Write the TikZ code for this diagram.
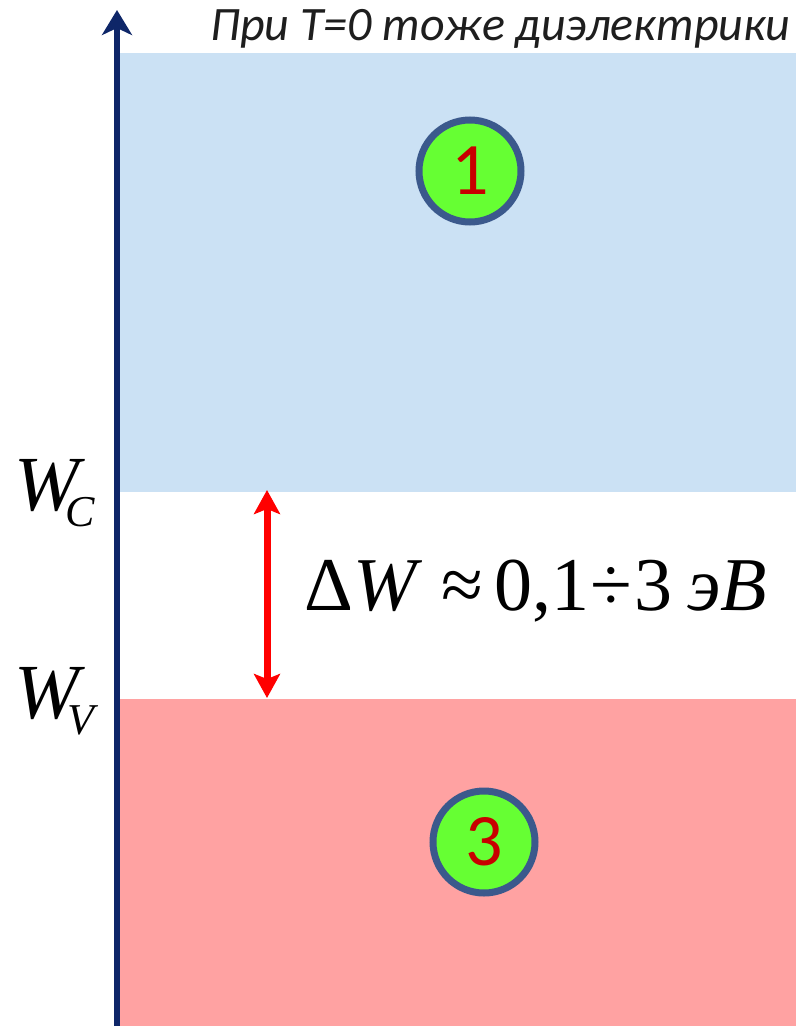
\documentclass[tikz,border=0pt]{standalone}
\usepackage{fontspec}
\setmainfont{Liberation Serif}
\newfontfamily\carl{Carlito}
\usetikzlibrary{arrows.meta}
\definecolor{bandblue}{RGB}{203,225,244}
\definecolor{bandred}{RGB}{255,162,162}
\definecolor{axisblue}{RGB}{14,38,104}
\definecolor{ballgreen}{RGB}{102,255,51}
\definecolor{ballrim}{RGB}{59,89,140}
\definecolor{numred}{RGB}{200,0,0}
\definecolor{gaparrow}{RGB}{255,0,0}
\definecolor{notetext}{RGB}{30,30,30}
\newcommand{\levelsub}[2]{\hspace{#1}\raisebox{-16pt}{\fontsize{44}{44}\selectfont #2}}
\begin{document}
\begin{tikzpicture}[x=1pt,y=-1pt,
  ball/.style={circle,draw=ballrim,line width=7pt,fill=ballgreen,minimum size=102pt,inner sep=0pt,
    font=\carl\fontsize{74}{74}\selectfont,text=numred},
  bigW/.style={inner sep=0pt,anchor=base west,font=\fontsize{78}{78}\selectfont\itshape},
  axtip/.tip={Stealth[length=25pt,width=30pt,inset=7pt]},
  gaptip/.tip={Stealth[length=24pt,width=26pt,inset=5pt]}]
\useasboundingbox (0,0) rectangle (796,1026);
\fill[bandblue] (120,53) rectangle (796,492);
\fill[bandred] (120,699) rectangle (796,1026);
\coordinate (axbot) at (117,1026);
\coordinate (axtop) at (117,10);
\draw[axisblue,line width=5.5pt,-{axtip}] (axbot) -- (axtop);
\node[ball] (c1) at (470,171) {1};
\node[ball] (c3) at (484,842) {3};
\coordinate (gt) at (267,490);
\coordinate (gb) at (267,698);
\draw[gaparrow,line width=7pt,{gaptip}-{gaptip}] (gt) -- (gb);
\node[bigW] (wc) at (14,510) {W\levelsub{-14pt}{C}};
\node[bigW] (wv) at (14,718) {W\levelsub{-12pt}{V}};
\node[inner sep=0pt,anchor=base west,font=\fontsize{76}{76}\selectfont] (gap) at (304,610)
  {Δ\textit{W}\hspace{0.25em}≈\hspace{0.15em}0,1\hspace{0.02em}÷\hspace{0.02em}3\hspace{0.2em}\textit{эВ}};
\node[inner sep=0pt,anchor=base west,text=notetext,font=\carl\itshape\fontsize{48}{48}\selectfont] (note) at (210,40)
  {При T=0 тоже диэлектрики};
\end{tikzpicture}
\end{document}
